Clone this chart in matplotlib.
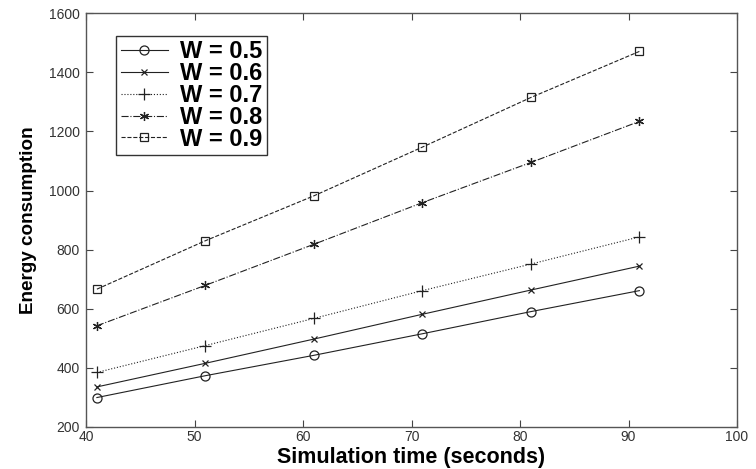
import matplotlib.pyplot as plt

plt.rcParams['font.family'] = ['Liberation Sans', 'DejaVu Sans']

# data
sim_time = [41, 51, 61, 71, 81, 91]
w_labels = ['W = 0.5', 'W = 0.6', 'W = 0.7', 'W = 0.8', 'W = 0.9']
energy_w05 = [299, 373, 442, 515, 590, 661]
energy_w06 = [335, 415, 497, 581, 663, 744]
energy_w07 = [384, 475, 567, 661, 751, 843]
energy_w08 = [542, 679, 818, 959, 1095, 1234]
energy_w09 = [666, 830, 982, 1147, 1315, 1471]

series = [energy_w05, energy_w06, energy_w07, energy_w08, energy_w09]
# linestyle, marker, size
styles = [('-', 'o', 6.5), ('-', 'x', 4.5), (':', '+', 8), ('-.', (6, 2, 0), 6.5), ('--', 's', 5.5)]

fig = plt.figure(figsize=(7.56, 4.69), dpi=100)
ax = fig.add_axes([0.1138, 0.090, 0.8611, 0.8816])

for vals, lab, (ls, mk, ms) in zip(series, w_labels, styles):
    ax.plot(sim_time, vals, linestyle=ls, marker=mk, markersize=ms,
            color='#222222', linewidth=0.8, markerfacecolor='none',
            markeredgewidth=0.9, label=lab)

ax.set_xlim(40, 100)
ax.set_ylim(200, 1600)
ax.set_xticks(range(40, 101, 10))
ax.set_yticks(range(200, 1601, 200))
ax.tick_params(direction='in', top=True, right=True, length=5,
               labelsize=10, color='#444444', labelcolor='#333333', pad=2)
ax.tick_params(axis='y', pad=4.5)
for s in ax.spines.values():
    s.set_color('#555555')
    s.set_linewidth(1.0)

ax.set_xlabel('Simulation time (seconds)', fontsize=15.5, fontweight='bold', va='bottom')
ax.xaxis.set_label_coords(0.5, -0.1)
ax.set_ylabel('Energy consumption', fontsize=13.6, fontweight='bold')
ax.yaxis.set_label_coords(-0.075, 0.5)

leg = ax.legend(loc='upper left', bbox_to_anchor=(0.046, 0.946), borderaxespad=0,
                prop={'size': 17, 'weight': 'bold'}, handlelength=2.0,
                labelspacing=-0.05, borderpad=0.2, handletextpad=0.5,
                fancybox=False, framealpha=1, edgecolor='#333333')
leg.get_frame().set_linewidth(1.0)

fig.savefig('out.png', dpi=100)
